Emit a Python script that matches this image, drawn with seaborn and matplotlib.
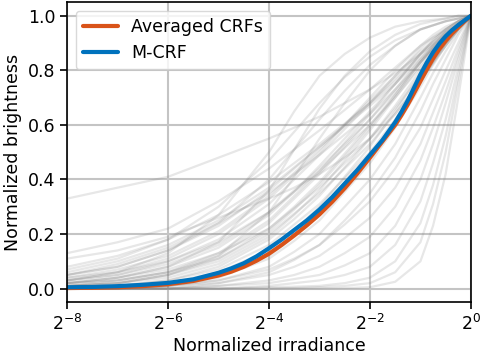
import numpy as np
import pandas as pd
import matplotlib
matplotlib.use("Agg")
import matplotlib.pyplot as plt
import seaborn as sns
from matplotlib.ticker import NullLocator

# ------------------------------------------------------------
# data (x given as log2 of irradiance)
# ------------------------------------------------------------
main_log2x = [-8, -7.5, -7, -6.5, -6, -5.5, -5, -4.75, -4.5, -4.25, -4,
              -3.75, -3.5, -3.25, -3, -2.75, -2.5, -2.25, -2, -1.75, -1.5,
              -1.375, -1.25, -1.125, -1, -0.875, -0.75, -0.625, -0.5,
              -0.375, -0.25, -0.125, 0]
averaged_crf = [0.002, 0.003, 0.005, 0.009, 0.016, 0.028, 0.048, 0.062, 0.08,
                0.102, 0.128, 0.16, 0.195, 0.232, 0.272, 0.318, 0.368, 0.422,
                0.48, 0.54, 0.6, 0.636, 0.675, 0.717, 0.76, 0.803, 0.843,
                0.878, 0.908, 0.935, 0.958, 0.98, 1.0]
m_crf = [0.005, 0.006, 0.009, 0.014, 0.021, 0.034, 0.058, 0.074, 0.093,
         0.118, 0.148, 0.18, 0.215, 0.25, 0.29, 0.335, 0.385, 0.435,
         0.49, 0.545, 0.61, 0.648, 0.69, 0.737, 0.785, 0.828, 0.866,
         0.898, 0.925, 0.947, 0.966, 0.983, 1.0]

gray_log2x = [-8, -7, -6, -5, -4, -3.5, -3, -2.5, -2, -1.5, -1, -0.75,
              -0.5, -0.25, 0]

core_crfs = [
    [0.00, 0.01, 0.03, 0.08, 0.18, 0.255, 0.34, 0.445, 0.55, 0.67, 0.80, 0.865, 0.92, 0.96, 1],
    [0.01, 0.02, 0.05, 0.11, 0.22, 0.30, 0.39, 0.495, 0.60, 0.71, 0.83, 0.885, 0.93, 0.97, 1],
    [0.02, 0.04, 0.08, 0.15, 0.27, 0.355, 0.45, 0.55, 0.65, 0.75, 0.86, 0.91, 0.95, 0.98, 1],
    [0.03, 0.05, 0.10, 0.18, 0.31, 0.40, 0.49, 0.585, 0.68, 0.78, 0.88, 0.92, 0.95, 0.98, 1],
    [0.04, 0.07, 0.12, 0.21, 0.34, 0.425, 0.51, 0.60, 0.69, 0.78, 0.87, 0.905, 0.94, 0.97, 1],
    [0.05, 0.08, 0.14, 0.23, 0.36, 0.44, 0.52, 0.60, 0.68, 0.77, 0.86, 0.90, 0.94, 0.97, 1],
    [0.06, 0.10, 0.16, 0.25, 0.37, 0.445, 0.52, 0.595, 0.67, 0.75, 0.84, 0.88, 0.92, 0.96, 1],
    [0.08, 0.12, 0.18, 0.27, 0.39, 0.46, 0.53, 0.605, 0.68, 0.76, 0.85, 0.89, 0.93, 0.97, 1],
    [0.01, 0.02, 0.04, 0.09, 0.19, 0.27, 0.36, 0.47, 0.58, 0.70, 0.82, 0.88, 0.93, 0.97, 1],
    [0.00, 0.01, 0.02, 0.06, 0.14, 0.215, 0.30, 0.41, 0.52, 0.65, 0.79, 0.855, 0.91, 0.96, 1],
    [0.00, 0.00, 0.01, 0.04, 0.11, 0.175, 0.25, 0.355, 0.46, 0.59, 0.74, 0.82, 0.89, 0.95, 1],
    [0.00, 0.00, 0.01, 0.03, 0.08, 0.135, 0.20, 0.30, 0.40, 0.53, 0.70, 0.79, 0.87, 0.94, 1],
    [0.00, 0.00, 0.00, 0.02, 0.06, 0.105, 0.16, 0.25, 0.35, 0.48, 0.65, 0.75, 0.84, 0.93, 1],
    [0.02, 0.03, 0.06, 0.12, 0.24, 0.33, 0.42, 0.52, 0.62, 0.73, 0.84, 0.895, 0.94, 0.97, 1],
    [0.03, 0.05, 0.09, 0.16, 0.28, 0.36, 0.44, 0.53, 0.62, 0.72, 0.83, 0.88, 0.93, 0.97, 1],
    [0.04, 0.06, 0.10, 0.17, 0.28, 0.355, 0.43, 0.515, 0.60, 0.70, 0.81, 0.865, 0.92, 0.96, 1],
    [0.02, 0.04, 0.07, 0.13, 0.22, 0.295, 0.37, 0.46, 0.55, 0.66, 0.78, 0.84, 0.90, 0.95, 1],
    [0.01, 0.02, 0.05, 0.10, 0.20, 0.275, 0.35, 0.44, 0.53, 0.64, 0.76, 0.83, 0.89, 0.95, 1],
    [0.00, 0.01, 0.03, 0.07, 0.16, 0.235, 0.31, 0.405, 0.50, 0.62, 0.76, 0.83, 0.90, 0.95, 1],
    [0.01, 0.03, 0.06, 0.13, 0.25, 0.34, 0.43, 0.535, 0.64, 0.75, 0.86, 0.91, 0.95, 0.98, 1],
    [0.03, 0.06, 0.11, 0.20, 0.33, 0.415, 0.50, 0.60, 0.70, 0.80, 0.89, 0.93, 0.96, 0.98, 1],
    [0.00, 0.01, 0.02, 0.05, 0.12, 0.19, 0.27, 0.375, 0.48, 0.61, 0.76, 0.835, 0.90, 0.96, 1],
    [0.05, 0.09, 0.15, 0.24, 0.35, 0.42, 0.49, 0.565, 0.64, 0.73, 0.83, 0.875, 0.92, 0.96, 1],
    [0.02, 0.03, 0.06, 0.11, 0.21, 0.29, 0.38, 0.485, 0.59, 0.71, 0.83, 0.89, 0.94, 0.97, 1],
]

upper_crfs = [
    [0.33, 0.37, 0.41, 0.48, 0.55, 0.59, 0.63, 0.68, 0.73, 0.79, 0.86, 0.895, 0.93, 0.97, 1],
    [0.13, 0.17, 0.22, 0.32, 0.44, 0.51, 0.58, 0.655, 0.73, 0.81, 0.89, 0.92, 0.95, 0.98, 1],
    [0.05, 0.08, 0.14, 0.24, 0.40, 0.51, 0.62, 0.725, 0.82, 0.89, 0.95, 0.965, 0.98, 0.99, 1],
    [0.02, 0.04, 0.08, 0.17, 0.36, 0.51, 0.66, 0.78, 0.87, 0.93, 0.97, 0.98, 0.99, 1.0, 1],
    [0.01, 0.02, 0.05, 0.12, 0.28, 0.41, 0.55, 0.68, 0.80, 0.89, 0.95, 0.965, 0.98, 0.99, 1],
    [0.07, 0.11, 0.18, 0.30, 0.47, 0.575, 0.68, 0.775, 0.85, 0.91, 0.95, 0.965, 0.98, 0.99, 1],
    [0.11, 0.14, 0.19, 0.26, 0.33, 0.37, 0.42, 0.48, 0.55, 0.64, 0.76, 0.825, 0.89, 0.95, 1],
    [0.03, 0.06, 0.13, 0.27, 0.50, 0.65, 0.78, 0.86, 0.92, 0.96, 0.98, 0.985, 0.99, 1.0, 1],
]

lower_crfs = [
    [0, 0, 0, 0, 0, 0, 0, 0.002, 0.005, 0.025, 0.10, 0.23, 0.42, 0.70, 1],
    [0, 0, 0, 0, 0, 0.002, 0.005, 0.01, 0.02, 0.06, 0.17, 0.31, 0.50, 0.75, 1],
    [0, 0, 0, 0, 0.005, 0.007, 0.01, 0.02, 0.04, 0.10, 0.24, 0.38, 0.56, 0.78, 1],
    [0, 0, 0, 0, 0.01, 0.02, 0.03, 0.05, 0.08, 0.16, 0.32, 0.46, 0.62, 0.81, 1],
    [0, 0, 0, 0.01, 0.02, 0.035, 0.05, 0.085, 0.13, 0.23, 0.40, 0.53, 0.68, 0.84, 1],
    [0, 0, 0, 0.01, 0.03, 0.05, 0.08, 0.13, 0.19, 0.30, 0.47, 0.59, 0.72, 0.86, 1],
    [0, 0, 0.01, 0.02, 0.05, 0.08, 0.12, 0.185, 0.26, 0.37, 0.53, 0.645, 0.76, 0.88, 1],
    [0, 0.01, 0.01, 0.03, 0.07, 0.11, 0.16, 0.235, 0.32, 0.44, 0.59, 0.695, 0.80, 0.90, 1],
]

xtick_pows = [-8, -6, -4, -2, 0]

# ------------------------------------------------------------
# tidy frames for seaborn
# ------------------------------------------------------------
rows = []
for i, crf in enumerate(core_crfs + upper_crfs + lower_crfs):
    for lx, v in zip(gray_log2x, crf):
        rows.append({"curve": i, "x": 2.0 ** lx, "y": v})
gray_df = pd.DataFrame(rows)

irr = 2.0 ** np.array(main_log2x)
avg_df = pd.DataFrame({"x": irr, "y": averaged_crf})
mcrf_df = pd.DataFrame({"x": irr, "y": m_crf})

# ------------------------------------------------------------
# plot
# ------------------------------------------------------------
sns.set_theme(style="ticks")
plt.rcParams["font.family"] = ["DejaVu Sans"]
plt.rcParams["text.color"] = "black"
plt.rcParams["axes.labelcolor"] = "black"

fig = plt.figure(figsize=(4.8, 3.56), dpi=100)
ax = fig.add_axes([0.14, 0.151, 0.841, 0.843])

sns.lineplot(data=gray_df, x="x", y="y", units="curve", estimator=None,
             color="#808080", alpha=0.19, lw=1.6, ax=ax, legend=False)
sns.lineplot(data=avg_df, x="x", y="y", color="#d95319", lw=3,
             label="Averaged CRFs", ax=ax)
sns.lineplot(data=mcrf_df, x="x", y="y", color="#0072bd", lw=3,
             label="M-CRF", ax=ax)

ax.set_xscale("log", base=2)
ax.set_xlim(2.0 ** -8, 1.0)
ax.set_ylim(-0.05, 1.05)
ax.set_xticks([2.0 ** p for p in xtick_pows])
ax.set_xticklabels([rf"$2^{{{p}}}$" for p in xtick_pows])
ax.xaxis.set_minor_locator(NullLocator())
ax.set_yticks([0.0, 0.2, 0.4, 0.6, 0.8, 1.0])
ax.set_yticklabels(["0.0", "0.2", "0.4", "0.6", "0.8", "1.0"])
ax.tick_params(labelsize=12.5, width=1.2, length=5, color="black",
               labelcolor="black")
ax.grid(True, color="#c4c4c4", lw=1.5)
for s in ax.spines.values():
    s.set_color("black")
    s.set_linewidth(1.2)

ax.set_xlabel("Normalized irradiance", fontsize=12.5, labelpad=2)
ax.set_ylabel("Normalized brightness", fontsize=12.5)

leg = ax.legend(loc="upper left", fontsize=12.5, frameon=True,
                handlelength=2.0, borderaxespad=0.5)
leg.get_frame().set_alpha(0.8)
leg.get_frame().set_edgecolor("#d0d0d0")

fig.savefig("out.png", dpi=100)
